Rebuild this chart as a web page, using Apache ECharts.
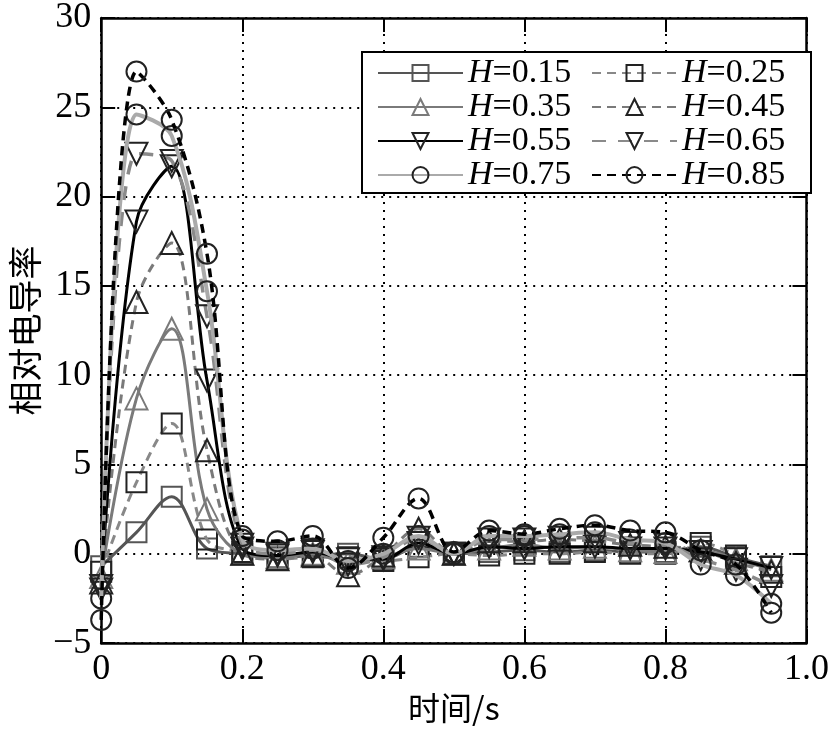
<!DOCTYPE html>
<html>
<head>
<meta charset="utf-8">
<script src="https://cdn.jsdelivr.net/npm/echarts@6/dist/echarts.min.js"></script>
<style>html,body{margin:0;padding:0;background:#fff}#c{width:832px;height:729px}</style>
</head>
<body>
<div id="c"></div>
<script>
const times = [0, 0.05, 0.1, 0.15, 0.2, 0.25, 0.3, 0.35, 0.4, 0.45, 0.5, 0.55, 0.6, 0.65, 0.7, 0.75, 0.8, 0.85, 0.9, 0.95];
const seriesNames = ['0.15', '0.25', '0.35', '0.45', '0.55', '0.65', '0.75', '0.85'];
const h015 = [-0.7, 1.2, 3.2, 0.3, 0.0, -0.2, -0.1, 0.0, -0.3, 0.4, 0.0, 0.1, 0.2, 0.1, 0.2, 0.1, 0.1, 0.4, -0.2, -0.7];
const h025 = [-1.0, 4.0, 7.3, 0.8, 0.1, -0.3, -0.2, -0.2, -0.4, -0.2, 0.0, -0.1, 0.0, 0.0, 0.1, 0.0, 0.0, 0.6, -0.1, -1.3];
const h035 = [-1.3, 8.7, 12.6, 2.5, 0.0, -0.2, 0.0, -0.5, -0.2, 0.3, 0.0, 0.3, 0.5, 0.3, 0.4, 0.2, 0.1, 0.2, -0.3, -0.9];
const h045 = [-1.6, 14.1, 17.4, 5.8, 0.0, -0.3, -0.1, -1.2, -0.1, 1.4, 0.0, 0.7, 0.7, 0.8, 0.7, 0.5, 0.4, 0.2, -0.5, -1.0];
const h055 = [-1.8, 18.6, 21.7, 9.7, 0.3, -0.1, 0.1, -0.3, -0.3, 0.6, 0.0, 0.4, 0.3, 0.4, 0.4, 0.3, 0.3, 0.1, -0.3, -0.8];
const h065 = [-2.0, 22.4, 22.0, 13.3, 0.5, 0.0, 0.2, -0.6, -0.2, 0.9, 0.0, 0.8, 0.8, 0.9, 0.9, 0.6, 0.5, -0.3, -0.9, -1.8];
const h075 = [-2.5, 24.6, 23.4, 14.7, 0.8, 0.2, 0.3, -0.4, 0.0, 1.0, 0.0, 1.0, 1.0, 1.1, 1.2, 0.8, 0.6, -0.6, -1.2, -2.8];
const h085 = [-3.7, 27.0, 24.3, 16.8, 1.0, 0.7, 1.0, -0.8, 0.9, 3.1, 0.1, 1.3, 1.1, 1.4, 1.6, 1.3, 1.2, 0.2, -0.6, -3.3];
const xTicks = [0, 0.2, 0.4, 0.6, 0.8, 1.0];
const yTicks = [-5, 0, 5, 10, 15, 20, 25, 30];

const values = [h015, h025, h035, h045, h055, h065, h075, h085];
const styles = [
  {color: '#555', width: 3, type: 'solid', symbol: 'rect', rot: 0},
  {color: '#888', width: 3, type: [9, 6], symbol: 'rect', rot: 0},
  {color: '#7a7a7a', width: 3, type: 'solid', symbol: 'triangle', rot: 0},
  {color: '#7a7a7a', width: 3, type: [9, 6], symbol: 'triangle', rot: 0},
  {color: '#000', width: 3, type: 'solid', symbol: 'triangle', rot: 180},
  {color: '#8a8a8a', width: 3.5, type: [14, 12], symbol: 'triangle', rot: 180},
  {color: '#aaa', width: 4, type: 'solid', symbol: 'circle', rot: 0},
  {color: '#000', width: 3.5, type: [9, 6], symbol: 'circle', rot: 0}
];

const serifFont = '"Liberation Serif", "Noto Sans CJK SC", serif';
const cjkFont = '"Noto Sans CJK SC", "Liberation Serif", serif';

const series = seriesNames.map((n, i) => ({
  name: n,
  type: 'line',
  smooth: 0.35,
  data: times.map((t, j) => [t, values[i][j]]),
  symbol: styles[i].symbol,
  symbolRotate: styles[i].rot,
  symbolSize: styles[i].symbol === 'triangle' ? 22 : 20,
  lineStyle: {color: styles[i].color, width: styles[i].width, type: styles[i].type},
  itemStyle: {color: 'rgba(255,255,255,0)', borderColor: i % 2 === 0 && i < 4 ? styles[i].color : '#222', borderWidth: 2},
  z: 2 + i
}));

const chart = echarts.init(document.getElementById('c'), null, {renderer: 'canvas'});
const fmtX = v => v === 0 ? '0' : v.toFixed(1);
const fmtY = v => v < 0 ? '\u2212' + Math.abs(v) : String(v);
chart.setOption({
  animation: false,
  backgroundColor: '#fff',
  grid: {left: 96, right: 25, top: 13, bottom: 80},
  legend: {
    left: 362, top: 52,
    width: 430,
    padding: [4, 6, 1, 15],
    itemWidth: 85, itemHeight: 20, itemGap: 0,
    backgroundColor: '#fff',
    borderColor: '#000', borderWidth: 2,
    data: seriesNames,
    formatter: n => '{i|H}{n|=' + n + '}',
    textStyle: {
      fontFamily: serifFont, fontSize: 34, color: '#000', width: 123, lineHeight: 30,
      rich: {
        i: {fontStyle: 'italic', fontFamily: serifFont, fontSize: 34, color: '#000', lineHeight: 30},
        n: {fontFamily: serifFont, fontSize: 34, color: '#000', lineHeight: 30}
      }
    }
  },
  xAxis: [{
    type: 'value', min: 0, max: 1, interval: 0.2,
    name: '时间/s', nameLocation: 'middle', nameGap: 44,
    nameTextStyle: {fontFamily: cjkFont, fontSize: 32, color: '#000'},
    axisLine: {show: true, onZero: false, lineStyle: {color: '#000', width: 2.5}},
    axisTick: {show: true, inside: true, length: 14, lineStyle: {color: '#000', width: 2}},
    axisLabel: {formatter: fmtX, fontFamily: serifFont, fontSize: 36, color: '#000', margin: 8},
    splitLine: {show: true, lineStyle: {color: '#000', type: [2, 6], width: 2}}
  }, {
    type: 'value', min: 0, max: 1, interval: 0.2, position: 'top',
    axisLine: {show: true, onZero: false, lineStyle: {color: '#000', width: 2.5}},
    axisTick: {show: true, inside: true, length: 14, lineStyle: {color: '#000', width: 2}},
    axisLabel: {show: false}, splitLine: {show: false}
  }],
  yAxis: [{
    type: 'value', min: -5, max: 30, interval: 5,
    name: '相对电导率', nameLocation: 'middle', nameGap: 54,
    nameTextStyle: {fontFamily: cjkFont, fontSize: 34, color: '#000'},
    axisLine: {show: true, onZero: false, lineStyle: {color: '#000', width: 2.5}},
    axisTick: {show: true, inside: true, length: 14, lineStyle: {color: '#000', width: 2}},
    axisLabel: {formatter: fmtY, fontFamily: serifFont, fontSize: 36, color: '#000', margin: 10},
    splitLine: {show: true, lineStyle: {color: '#000', type: [2, 6], width: 2}}
  }, {
    type: 'value', min: -5, max: 30, interval: 5, position: 'right',
    axisLine: {show: true, onZero: false, lineStyle: {color: '#000', width: 2.5}},
    axisTick: {show: true, inside: true, length: 14, lineStyle: {color: '#000', width: 2}},
    axisLabel: {show: false}, splitLine: {show: false}
  }],
  series: series
});
</script>
</body>
</html>
